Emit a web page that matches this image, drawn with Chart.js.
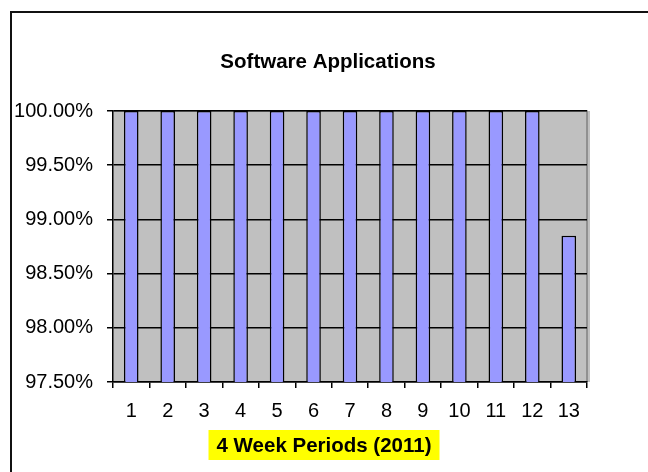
<!DOCTYPE html>
<html lang="en">
<head>
    <meta charset="UTF-8">
    <title>Software Applications</title>
    <script src="https://cdn.jsdelivr.net/npm/chart.js"></script>
    <style>
        html, body {
            margin: 0;
            padding: 0;
            background: white;
        }
        #wrap {
            width: 648px;
            height: 472px;
        }
    </style>
</head>
<body>

<div id="wrap">
    <canvas id="chart" width="648" height="472"></canvas>
</div>

<script>
    // data
    let periods = ["1", "2", "3", "4", "5", "6", "7", "8", "9", "10", "11", "12", "13"];
    let availability = [100, 100, 100, 100, 100, 100, 100, 100, 100, 100, 100, 100, 98.85];
    let yTicks = [97.5, 98, 98.5, 99, 99.5, 100];

    let chartTitle = "Software Applications";
    let xTitle = "4 Week Periods (2011)";
    let fontName = "'Liberation Sans', Arial, sans-serif";

    // frame, grey plot area, titles
    let decor = {
        id: "decor",
        beforeDraw(chart) {
            let ctx = chart.ctx;
            let a = chart.chartArea;
            ctx.save();
            ctx.fillStyle = "white";
            ctx.fillRect(0, 0, chart.width, chart.height);

            // outer frame, only top and left show
            ctx.strokeStyle = "#111";
            ctx.lineWidth = 2;
            ctx.beginPath();
            ctx.moveTo(11, chart.height);
            ctx.lineTo(11, 12);
            ctx.lineTo(chart.width, 12);
            ctx.stroke();

            // plot area
            ctx.fillStyle = "#C0C0C0";
            ctx.fillRect(a.left, a.top, a.right - a.left + 3, a.bottom - a.top);
            ctx.strokeStyle = "#808080";
            ctx.lineWidth = 1.5;
            ctx.beginPath();
            ctx.moveTo(a.left, a.top);
            ctx.lineTo(a.right, a.top);
            ctx.lineTo(a.right, a.bottom);
            ctx.stroke();
            ctx.restore();
        },
        afterDraw(chart) {
            let ctx = chart.ctx;
            ctx.save();
            ctx.font = "bold 20.5px " + fontName;
            ctx.textAlign = "center";
            ctx.textBaseline = "middle";
            ctx.fillStyle = "black";
            ctx.fillText(chartTitle, 328, 62);

            ctx.font = "bold 20.5px " + fontName;
            let w = ctx.measureText(xTitle).width;
            ctx.fillStyle = "#FFFF00";
            ctx.fillRect(324 - w / 2 - 8, 430, w + 16, 30);
            ctx.fillStyle = "black";
            ctx.fillText(xTitle, 324, 446);
            ctx.restore();
        }
    };

    let ctx = document.getElementById("chart").getContext("2d");
    new Chart(ctx, {
        type: "bar",
        data: {
            labels: periods,
            datasets: [{
                data: availability,
                backgroundColor: "#9999FF",
                borderColor: "black",
                borderWidth: 1.5,
                barPercentage: 0.4,
                categoryPercentage: 1
            }]
        },
        options: {
            responsive: false,
            animation: false,
            layout: { padding: { left: 0, top: 111, right: 61, bottom: 0 } },
            plugins: {
                legend: { display: false },
                tooltip: { enabled: false }
            },
            scales: {
                x: {
                    afterFit: scale => { scale.height = 90; },
                    grid: {
                        offset: true,
                        drawOnChartArea: false,
                        color: "black",
                        lineWidth: 1.5,
                        tickLength: 6
                    },
                    border: { color: "black", width: 1.5 },
                    ticks: {
                        color: "black",
                        font: { family: fontName, size: 20 },
                        padding: 11,
                        maxRotation: 0
                    }
                },
                y: {
                    min: 97.5,
                    max: 100,
                    afterFit: scale => { scale.width = 113; },
                    afterBuildTicks: scale => { scale.ticks = yTicks.map(v => ({ value: v })); },
                    grid: {
                        color: "black",
                        lineWidth: 1.5,
                        tickLength: 6
                    },
                    border: { color: "black", width: 1.5 },
                    ticks: {
                        color: "black",
                        font: { family: fontName, size: 20 },
                        padding: 14,
                        callback: v => v.toFixed(2) + "%"
                    }
                }
            }
        },
        plugins: [decor]
    });
</script>

</body>
</html>
